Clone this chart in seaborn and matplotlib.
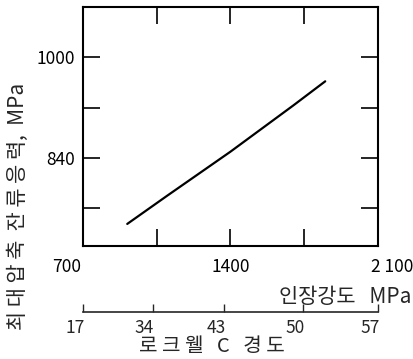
import matplotlib
matplotlib.use('Agg')
import matplotlib.pyplot as plt
import matplotlib.transforms as mtransforms
import seaborn as sns
import pandas as pd

# data
tensile = [910, 1100, 1400, 1700, 1850]      # MPa
stress = [735, 780, 850, 924, 962]           # MPa
x_ticks = [700, 1050, 1400, 1750, 2100]
x_labels = ['700', '', '1400', '', '2 100']
y_ticks = [760, 840, 920, 1000]
y_labels = ['', '840', '', '1000']
hrc_labels = ['17', '34', '43', '50', '57']
hrc_pos = [700, 1030, 1370, 1745, 2100]      # tensile equivalent

sns.set_style('ticks')
plt.rcParams['font.family'] = ['Noto Sans CJK KR', 'DejaVu Sans']

df = pd.DataFrame({'tensile': tensile, 'stress': stress})

fig = plt.figure(figsize=(4.13, 3.59), dpi=100)
ax = fig.add_axes([0.201, 0.315, 0.714, 0.665])
sns.lineplot(data=df, x='tensile', y='stress', color='black', linewidth=1.6, ax=ax)

ax.set_xlim(700, 2100)
ax.set_ylim(700, 1080)
for s in ax.spines.values():
    s.set_visible(True)
    s.set_linewidth(1.5)
    s.set_color('black')

ax.set_xticks(x_ticks, x_labels)
ax.set_yticks(y_ticks, y_labels)
ax.tick_params(direction='in', length=12, width=1.2, top=True, right=True,
               labelsize=12.5, colors='black')
ax.tick_params(axis='x', pad=9)
ax.tick_params(axis='y', pad=6)


def shift(label, dx):
    label.set_transform(label.get_transform() +
                        mtransforms.ScaledTranslation(dx / 100, 0, fig.dpi_scale_trans))


xt = ax.xaxis.get_major_ticks()
shift(xt[0].label1, -16)
shift(xt[-1].label1, 14)

ax.set_xlabel('인장강도   MPa', fontsize=15)
ax.xaxis.set_label_coords(0.89, -0.17)
ax.set_ylabel('최 대 압 축  잔 류 응 력,  MPa', fontsize=15)
ax.yaxis.set_label_coords(-0.185, 0.165)

# Rockwell C hardness scale
sec = ax.secondary_xaxis(-0.276)
sec.set_xticks(hrc_pos, hrc_labels)
sec.spines['bottom'].set_linewidth(1.2)
sec.tick_params(direction='in', length=6, width=1.0, labelsize=12.5, pad=5)
for t in sec.xaxis.get_major_ticks():
    shift(t.label1, -8)
ax.text(0.437, -0.42, '로 크 웰   C   경 도', transform=ax.transAxes,
        ha='center', va='center', fontsize=14.5)

fig.savefig('out.png', dpi=100)
